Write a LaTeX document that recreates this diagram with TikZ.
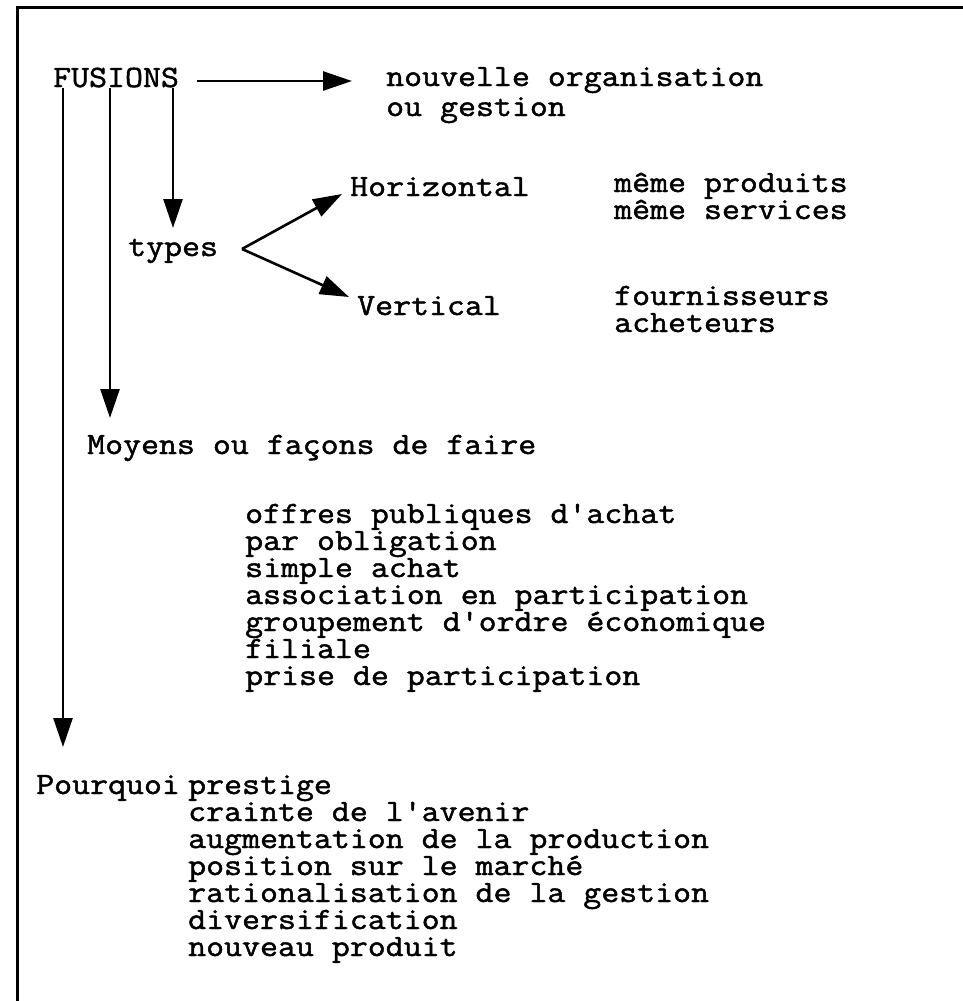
\documentclass[tikz,border=0pt]{standalone}
\usepackage{fontspec}
\newfontfamily\cour{Latin Modern Mono}[FakeBold=1.5,FakeStretch=1.125]
\usetikzlibrary{arrows.meta}
% lines are set at a fixed pitch, whatever their ascenders and descenders
\lineskiplimit=-100pt\relax
\lineskip=0pt\relax
\begin{document}
\begin{tikzpicture}[x=1pt,y=-1pt,
  % multi-line texts are placed by the baseline of their last line
  txt/.style={anchor=base west,inner sep=0pt,align=left,
    font=\cour\fontsize{31}{27}\selectfont},
  arr/.style={line width=2.6pt,-{Triangle[length=29pt,width=19pt]}},
  frame/.style={line width=3pt}]
\useasboundingbox (0,0) rectangle (963,1001);
% open frame: left and top sides only
\draw[frame] (17,1001) -- (17,7) -- (963,7);

% headings
\node[txt] (fus) at (53,87) {FUSIONS};
\node[txt] (nouv) at (386,116) {nouvelle organisation\\[3pt]ou gestion};
\node[txt] (types) at (128,256) {types};
\node[txt] (hor) at (350,196) {Horizontal};
\node[txt] (ver) at (357,315) {Vertical};
\node[txt] (hdesc) at (614,219) {même produits\\même services};
\node[txt] (vdesc) at (614,332) {fournisseurs\\acheteurs};
\node[txt] (moy) at (87,454) {Moyens ou façons de faire};
\node[txt] (pq) at (36,794) {Pourquoi};

% list of means
\node[txt] (means) at (245,685) {offres publiques d'achat\\par obligation\\simple achat\\association en participation\\groupement d'ordre économique\\filiale\\prise de participation};

% list of reasons
\node[txt] (reasons) at (188,956) {prestige\\crainte de l'avenir\\augmentation de la production\\position sur le marché\\rationalisation de la gestion\\diversification\\nouveau produit};

% arrow ends
\coordinate (fa) at (197,81);
\coordinate (fb) at (352,81);
\coordinate (tp) at (173,228);
\coordinate (mp) at (110,418);
\coordinate (pp) at (63,747);
\coordinate (br) at (242,249);
\coordinate (ht) at (342,194);
\coordinate (vt) at (349,297);

% connectors
\draw[arr] (fa) -- (fb);
\draw[arr] (fus.south -| tp) -- (tp);
\draw[arr] (fus.south -| mp) -- (mp);
\draw[arr] (fus.south -| pp) -- (pp);
\draw[arr] (br) -- (ht);
\draw[arr] (br) -- (vt);
\end{tikzpicture}
\end{document}
